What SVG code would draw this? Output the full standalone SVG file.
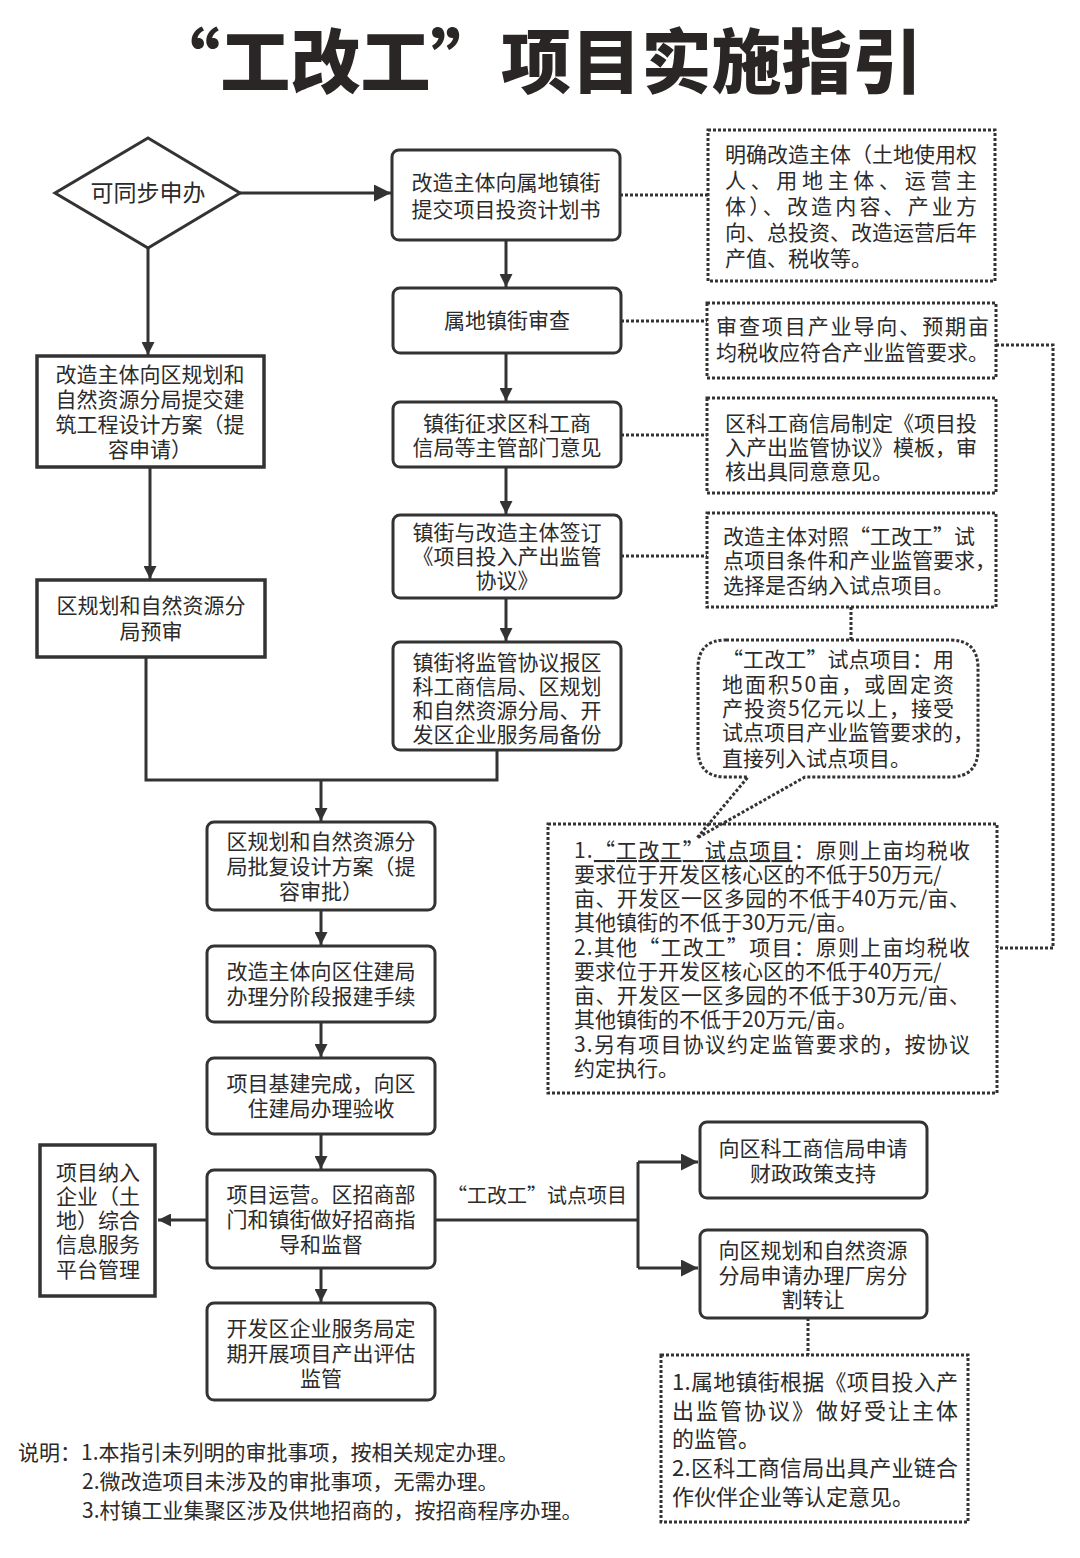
<svg xmlns="http://www.w3.org/2000/svg" width="1080" height="1558" viewBox="0 0 1080 1558">
<style>
text{font-family:"Noto Sans CJK SC","Noto Sans",sans-serif;fill:#2b2b2b;font-size:21px}
.c{text-anchor:middle}
.title{font-size:70px;font-weight:900;fill:#2a2626}
.box{fill:#fff;stroke:#333;stroke-width:3}
.sq{fill:#fff;stroke:#333;stroke-width:3.5}
.dot{fill:none;stroke:#333;stroke-width:3;stroke-dasharray:3 2}
.ln{fill:none;stroke:#333;stroke-width:3}
.arr{fill:none;stroke:#333;stroke-width:3;marker-end:url(#ah)}
.arrb{fill:none;stroke:#333;stroke-width:3;marker-end:url(#ahb)}
.r3{font-size:22px}
</style>
<defs>
<marker id="ah" viewBox="0 0 10 10" refX="10" refY="5" markerWidth="13" markerHeight="13" markerUnits="userSpaceOnUse" orient="auto"><path d="M0,0 L10,5 L0,10 z" fill="#333"/></marker>
<marker id="ahb" viewBox="0 0 10 10" refX="10" refY="5" markerWidth="17" markerHeight="17" markerUnits="userSpaceOnUse" orient="auto"><path d="M0,0 L10,5 L0,10 z" fill="#333"/></marker>
</defs>
<rect width="1080" height="1558" fill="#fff"/>
<text class="title" x="150" y="88" textLength="772" lengthAdjust="spacing">“工改工”项目实施指引</text>

<g id="connectors">
<line class="arrb" x1="240" y1="193" x2="391" y2="193"/>
<line class="arr" x1="506" y1="240" x2="506" y2="287"/>
<line class="arr" x1="506" y1="353" x2="506" y2="401"/>
<line class="arr" x1="506" y1="467" x2="506" y2="514"/>
<line class="arr" x1="506" y1="598" x2="506" y2="641"/>
<line class="arr" x1="148" y1="248" x2="148" y2="355"/>
<line class="arr" x1="150" y1="467" x2="150" y2="579"/>
<polyline class="ln" points="146,657 146,780 497,780 497,750"/>
<line class="arr" x1="321" y1="780" x2="321" y2="821"/>
<line class="arr" x1="321" y1="910" x2="321" y2="945"/>
<line class="arr" x1="321" y1="1022" x2="321" y2="1057"/>
<line class="arr" x1="321" y1="1134" x2="321" y2="1169"/>
<line class="arr" x1="321" y1="1268" x2="321" y2="1302"/>
<line class="arr" x1="207" y1="1220" x2="158" y2="1220"/>
<polyline class="ln" points="435,1220 638,1220"/>
<polyline class="ln" points="638,1162 638,1268"/>
<line class="arrb" x1="638" y1="1162" x2="698" y2="1162"/>
<line class="arrb" x1="638" y1="1268" x2="698" y2="1268"/>
<line class="dot" x1="620" y1="195" x2="708" y2="195"/>
<line class="dot" x1="621" y1="321" x2="707" y2="321"/>
<line class="dot" x1="621" y1="435" x2="707" y2="435"/>
<line class="dot" x1="621" y1="556" x2="707" y2="556"/>
<line class="dot" x1="851" y1="607" x2="851" y2="640"/>
<polyline class="dot" points="996,345 1053,345 1053,948 997,948"/>
<line class="dot" x1="808" y1="1318" x2="808" y2="1355"/>
</g>

<g id="n-sync">
<polygon class="box" points="148,138 240,193 148,248 55,193"/>
<text class="c" x="148" y="201" style="font-size:23px">可同步申办</text>
</g>
<g id="n1">
<rect class="box" x="392" y="150" width="228" height="90" rx="7"/>
<text class="c" x="506" y="190">改造主体向属地镇街<tspan x="506" dy="27">提交项目投资计划书</tspan></text>
</g>
<g id="n2">
<rect class="box" x="393" y="288" width="228" height="65" rx="7"/>
<text class="c" x="507" y="328">属地镇街审查</text>
</g>
<g id="n3">
<rect class="box" x="393" y="402" width="228" height="65" rx="7"/>
<text class="c" x="507" y="431">镇街征求区科工商<tspan x="507" dy="24">信局等主管部门意见</tspan></text>
</g>
<g id="n4">
<rect class="box" x="393" y="515" width="228" height="83" rx="7"/>
<text class="c" x="507" y="540">镇街与改造主体签订<tspan x="507" dy="24">《项目投入产出监管</tspan><tspan x="507" dy="24">协议》</tspan></text>
</g>
<g id="n5">
<rect class="box" x="393" y="642" width="228" height="108" rx="7"/>
<text class="c" x="507" y="670">镇街将监管协议报区<tspan x="507" dy="24">科工商信局、区规划</tspan><tspan x="507" dy="24">和自然资源分局、开</tspan><tspan x="507" dy="24">发区企业服务局备份</tspan></text>
</g>
<g id="nL1">
<rect class="sq" x="37" y="356" width="227" height="111"/>
<text class="c" x="150" y="382">改造主体向区规划和<tspan x="150" dy="25">自然资源分局提交建</tspan><tspan x="150" dy="25">筑工程设计方案（提</tspan><tspan x="150" dy="25">容申请）</tspan></text>
</g>
<g id="nL2">
<rect class="sq" x="37" y="580" width="228" height="77"/>
<text class="c" x="151" y="613">区规划和自然资源分<tspan x="151" dy="26">局预审</tspan></text>
</g>
<g id="n6">
<rect class="box" x="207" y="822" width="228" height="88" rx="7"/>
<text class="c" x="321" y="849">区规划和自然资源分<tspan x="321" dy="25">局批复设计方案（提</tspan><tspan x="321" dy="25">容审批）</tspan></text>
</g>
<g id="n7">
<rect class="box" x="207" y="946" width="228" height="76" rx="7"/>
<text class="c" x="321" y="979">改造主体向区住建局<tspan x="321" dy="25">办理分阶段报建手续</tspan></text>
</g>
<g id="n8">
<rect class="box" x="207" y="1058" width="228" height="76" rx="7"/>
<text class="c" x="321" y="1091">项目基建完成，向区<tspan x="321" dy="25">住建局办理验收</tspan></text>
</g>
<g id="n9">
<rect class="box" x="207" y="1170" width="228" height="98" rx="7"/>
<text class="c" x="321" y="1202">项目运营。区招商部<tspan x="321" dy="25">门和镇街做好招商指</tspan><tspan x="321" dy="25">导和监督</tspan></text>
</g>
<g id="n10">
<rect class="box" x="207" y="1303" width="228" height="97" rx="7"/>
<text class="c" x="321" y="1336">开发区企业服务局定<tspan x="321" dy="25">期开展项目产出评估</tspan><tspan x="321" dy="25">监管</tspan></text>
</g>
<g id="nL3">
<rect class="sq" x="40" y="1145" width="115" height="151"/>
<text class="c" x="98" y="1180">项目纳入<tspan x="98" dy="24">企业（土</tspan><tspan x="98" dy="24">地）综合</tspan><tspan x="98" dy="24">信息服务</tspan><tspan x="98" dy="25">平台管理</tspan></text>
</g>
<g id="label-pilot">
<text class="c" x="537" y="1203" style="font-size:20px">“工改工”试点项目</text>
</g>
<g id="nR1">
<rect class="box" x="700" y="1122" width="227" height="76" rx="7"/>
<text class="c" x="813" y="1156">向区科工商信局申请<tspan x="813" dy="25">财政政策支持</tspan></text>
</g>
<g id="nR2">
<rect class="box" x="700" y="1230" width="227" height="88" rx="7"/>
<text class="c" x="813" y="1258">向区规划和自然资源<tspan x="813" dy="25">分局申请办理厂房分</tspan><tspan x="813" dy="24">割转让</tspan></text>
</g>
<g id="nR3">
<rect class="dot" x="661" y="1355" width="307" height="167"/>
<text class="r3" x="672" y="1390"><tspan textLength="286" lengthAdjust="spacing">1.属地镇街根据《项目投入产</tspan><tspan x="672" dy="29" textLength="286" lengthAdjust="spacing">出监管协议》做好受让主体</tspan><tspan x="672" dy="28">的监管。</tspan><tspan x="672" dy="29" textLength="286" lengthAdjust="spacing">2.区科工商信局出具产业链合</tspan><tspan x="672" dy="29">作伙伴企业等认定意见。</tspan></text>
</g>
<g id="notes">
<text x="18" y="1460">说明：1.本指引未列明的审批事项，按相关规定办理。<tspan x="82" dy="29">2.微改造项目未涉及的审批事项，无需办理。</tspan><tspan x="82" dy="29">3.村镇工业集聚区涉及供地招商的，按招商程序办理。</tspan></text>
</g>
<g id="d1">
<rect class="dot" x="708" y="130" width="287" height="151"/>
<text x="725" y="162"><tspan textLength="252" lengthAdjust="spacing">明确改造主体（土地使用权</tspan><tspan x="725" dy="26" textLength="252" lengthAdjust="spacing">人、用地主体、运营主</tspan><tspan x="725" dy="26" textLength="252" lengthAdjust="spacing">体）、改造内容、产业方</tspan><tspan x="725" dy="26" textLength="252" lengthAdjust="spacing">向、总投资、改造运营后年</tspan><tspan x="725" dy="26">产值、税收等。</tspan></text>
</g>
<g id="d2">
<rect class="dot" x="707" y="303" width="289" height="75"/>
<text x="716" y="334"><tspan textLength="273" lengthAdjust="spacing">审查项目产业导向、预期亩</tspan><tspan x="716" dy="26">均税收应符合产业监管要求。</tspan></text>
</g>
<g id="d3">
<rect class="dot" x="707" y="398" width="289" height="95"/>
<text x="725" y="431">区科工商信局制定《项目投<tspan x="725" dy="24">入产出监管协议》模板，审</tspan><tspan x="725" dy="24">核出具同意意见。</tspan></text>
</g>
<g id="d4">
<rect class="dot" x="707" y="513" width="289" height="94"/>
<text x="723" y="544">改造主体对照“工改工”试<tspan x="723" dy="24">点项目条件和产业监管要求，</tspan><tspan x="723" dy="25">选择是否纳入试点项目。</tspan></text>
</g>
<g id="d5">
<path class="dot" d="M726,640 H950 Q978,640 978,668 V749 Q978,777 950,777 H805 L697,838 L748,777 H726 Q698,777 698,749 V668 Q698,640 726,640 Z" fill="#fff"/>
<text x="722" y="667"><tspan textLength="232" lengthAdjust="spacing">“工改工”试点项目：用</tspan><tspan x="722" dy="25" textLength="232" lengthAdjust="spacing">地面积50亩，或固定资</tspan><tspan x="722" dy="24" textLength="232" lengthAdjust="spacing">产投资5亿元以上，接受</tspan><tspan x="722" dy="24">试点项目产业监管要求的，</tspan><tspan x="722" dy="26">直接列入试点项目。</tspan></text>
</g>
<g id="d6">
<rect class="dot" x="548" y="824" width="449" height="269"/>
<text x="574" y="858"><tspan textLength="396" lengthAdjust="spacing">1.<tspan style="text-decoration:underline">“工改工”试点项目</tspan>：原则上亩均税收</tspan><tspan x="574" dy="24">要求位于开发区核心区的不低于50万元/</tspan><tspan x="574" dy="24" textLength="396" lengthAdjust="spacing">亩、开发区一区多园的不低于40万元/亩、</tspan><tspan x="574" dy="24">其他镇街的不低于30万元/亩。</tspan><tspan x="574" dy="25" textLength="396" lengthAdjust="spacing">2.其他“工改工”项目：原则上亩均税收</tspan><tspan x="574" dy="24">要求位于开发区核心区的不低于40万元/</tspan><tspan x="574" dy="24" textLength="396" lengthAdjust="spacing">亩、开发区一区多园的不低于30万元/亩、</tspan><tspan x="574" dy="24">其他镇街的不低于20万元/亩。</tspan><tspan x="574" dy="25" textLength="396" lengthAdjust="spacing">3.另有项目协议约定监管要求的，按协议</tspan><tspan x="574" dy="24">约定执行。</tspan></text>
</g>
</svg>
